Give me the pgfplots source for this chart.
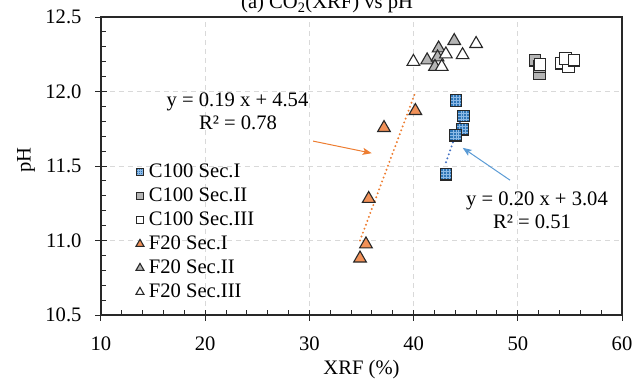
\documentclass[border=0pt]{standalone}
\usepackage{pgfplots}
\pgfplotsset{compat=1.18}
\usepackage{fontspec}
\setmainfont{Liberation Serif}
\usetikzlibrary{arrows.meta,calc}
\definecolor{orLine}{RGB}{237,125,49}
\definecolor{orFill}{RGB}{241,145,88}
\definecolor{blFill}{RGB}{46,117,182}
\definecolor{blGrid}{RGB}{140,185,230}
\definecolor{blLine}{RGB}{68,114,196}
\definecolor{blArrow}{RGB}{91,155,213}
\definecolor{gyFill}{RGB}{180,180,180}
\definecolor{edge}{RGB}{40,40,40}
\definecolor{gridc}{RGB}{217,217,217}
\pgfdeclareplotmark{gridsquare}{%
  \pgfpathrectangle{\pgfqpoint{-\pgfplotmarksize}{-\pgfplotmarksize}}{\pgfqpoint{2\pgfplotmarksize}{2\pgfplotmarksize}}%
  \pgfusepathqfillstroke
  \begin{pgfscope}
    \pgfsetstrokecolor{blGrid}\pgfsetlinewidth{0.35pt}%
    \pgfpathmoveto{\pgfqpoint{-0.5\pgfplotmarksize}{-\pgfplotmarksize}}\pgfpathlineto{\pgfqpoint{-0.5\pgfplotmarksize}{\pgfplotmarksize}}%
    \pgfpathmoveto{\pgfqpoint{0pt}{-\pgfplotmarksize}}\pgfpathlineto{\pgfqpoint{0pt}{\pgfplotmarksize}}%
    \pgfpathmoveto{\pgfqpoint{0.5\pgfplotmarksize}{-\pgfplotmarksize}}\pgfpathlineto{\pgfqpoint{0.5\pgfplotmarksize}{\pgfplotmarksize}}%
    \pgfpathmoveto{\pgfqpoint{-\pgfplotmarksize}{-0.5\pgfplotmarksize}}\pgfpathlineto{\pgfqpoint{\pgfplotmarksize}{-0.5\pgfplotmarksize}}%
    \pgfpathmoveto{\pgfqpoint{-\pgfplotmarksize}{0pt}}\pgfpathlineto{\pgfqpoint{\pgfplotmarksize}{0pt}}%
    \pgfpathmoveto{\pgfqpoint{-\pgfplotmarksize}{0.5\pgfplotmarksize}}\pgfpathlineto{\pgfqpoint{\pgfplotmarksize}{0.5\pgfplotmarksize}}%
    \pgfusepathqstroke
  \end{pgfscope}
  \pgfpathrectangle{\pgfqpoint{-\pgfplotmarksize}{-\pgfplotmarksize}}{\pgfqpoint{2\pgfplotmarksize}{2\pgfplotmarksize}}%
  \pgfusepathqstroke
}
\newcommand{\f}{\fontsize{20.6bp}{24bp}\selectfont}
\begin{document}
\begin{tikzpicture}
\begin{axis}[
  scale only axis,
  width=521bp, height=298bp,
  xmin=10, xmax=60, ymin=10.5, ymax=12.5,
  xtick={10,20,...,60}, ytick={10.5,11,11.5,12,12.5},
  minor x tick num=4, minor y tick num=4,
  xtick pos=bottom, ytick pos=left,
  tick align=inside,
  major tick length=11bp, minor tick length=5bp,
  every major x tick/.append style={yshift=-5.5bp},
  every major y tick/.append style={xshift=-5.5bp},
  tick style={edge, line width=1bp},
  axis line style={edge, line width=1.4bp},
  grid=major,
  major grid style={gridc, line width=1bp, dash pattern=on 5bp off 4bp},
  /pgf/number format/assume math mode=true,
  yticklabel style={/pgf/number format/fixed, /pgf/number format/fixed zerofill, /pgf/number format/precision=1, xshift=-16bp},
  xticklabel style={yshift=-18bp},
  ticklabel style={font=\f},
  label style={font=\f},
  xlabel={XRF (\%)}, ylabel={pH},
  xlabel style={at={(axis description cs:0.5,-0.198)}, anchor=base},
  ylabel style={at={(axis description cs:-0.144,0.52)}, anchor=center},
  legend style={at={(rel axis cs:0.066,0.514)}, anchor=north west, draw=none, fill=none, inner sep=0pt,
    font=\f, row sep=4bp, nodes={inner ysep=0pt, inner xsep=4.5bp, text height=15bp, text depth=5bp}},
  legend cell align=left,
  legend image code/.code={\draw[#1] plot coordinates {(4bp,0bp)}; \path (0bp,-3bp) (8bp,3bp);},
  clip=false,
]
% C100 Sec.I
\addplot[only marks, mark=gridsquare, mark size=5.8bp, mark options={draw=edge, fill=blFill, line width=1.1bp},
  legend image post style={mark size=3.4bp, line width=0.8bp}]
  coordinates {(43.11,11.445) (44.07,11.94) (44.8,11.835) (44.67,11.747) (44.04,11.707)};
\addlegendentry{C100 Sec.I}
% C100 Sec.II
\addplot[only marks, mark=square*, mark size=5.8bp, mark options={draw=edge, fill=gyFill, line width=1.1bp},
  legend image post style={mark size=3.4bp, line width=0.8bp}]
  coordinates {(51.65,12.21) (52.07,12.12) (52.07,12.166)};
\addlegendentry{C100 Sec.II}
% C100 Sec.III
\addplot[only marks, mark=square*, mark size=5.8bp, mark options={draw=edge, fill=white, line width=1.1bp},
  legend image post style={mark size=3.4bp, line width=0.8bp}]
  coordinates {(52.13,12.18) (54.2,12.19) (54.85,12.166) (54.6,12.22) (55.4,12.21)};
\addlegendentry{C100 Sec.III}
% F20 Sec.I
\addplot[only marks, mark=triangle*, mark size=7.3bp, mark options={draw=edge, fill=orFill, line width=1.1bp},
  legend image post style={mark size=4.6bp, line width=0.8bp}]
  coordinates {(34.86,10.88) (35.43,10.975) (35.69,11.28) (37.16,11.756) (40.17,11.87)};
\addlegendentry{F20 Sec.I}
% F20 Sec.II
\addplot[only marks, mark=triangle*, mark size=7.3bp, mark options={draw=edge, fill=gyFill, line width=1.1bp},
  legend image post style={mark size=4.6bp, line width=0.8bp}]
  coordinates {(41.3,12.21) (42.4,12.29) (42.3,12.23) (42.05,12.166) (43.9,12.34)};
\addlegendentry{F20 Sec.II}
% F20 Sec.III
\addplot[only marks, mark=triangle*, mark size=7.3bp, mark options={draw=edge, fill=white, line width=1.1bp},
  legend image post style={mark size=4.6bp, line width=0.8bp}]
  coordinates {(39.98,12.2) (42.7,12.166) (43.1,12.25) (44.7,12.245) (46.0,12.32)};
\addlegendentry{F20 Sec.III}
% trend lines
\addplot[orLine, line width=2.2bp, line cap=round, dash pattern=on 0bp off 4.2bp, forget plot]
  coordinates {(34.86,11.0) (40.15,11.99)};
\addplot[blLine, line width=2.2bp, line cap=round, dash pattern=on 0bp off 4.2bp, forget plot]
  coordinates {(43.11,11.525) (44.8,11.864)};
% arrows
\draw[orLine, line width=1bp, -{Stealth[length=9bp, width=7bp, inset=2bp]}] (axis cs:30.36,11.667) -- (axis cs:35.98,11.586);
\draw[blArrow, line width=1bp, -{Stealth[length=9bp, width=7bp, inset=2bp]}] (axis cs:49.25,11.405) -- (axis cs:44.71,11.622);
% equations
\node[anchor=base, font=\f] at (axis cs:23.1,11.902) {y = 0.19 x + 4.54};
\node[anchor=base, font=\f] at (axis cs:23.15,11.747) {R² = 0.78};
\node[anchor=base, font=\f] at (axis cs:51.84,11.237) {y = 0.20 x + 3.04};
\node[anchor=base, font=\f] at (axis cs:51.36,11.082) {R² = 0.51};
% title (partly cut by the page edge, as in the reference)
\node[anchor=base, font=\f] at (rel axis cs:0.434,1.027) {(a) CO\textsubscript{2}(XRF) vs pH};
\coordinate (sw) at (rel axis cs:0,0);
\coordinate (ne) at (rel axis cs:1,1);
\end{axis}
\pgfresetboundingbox
\useasboundingbox ($(sw)+(-101bp,-67bp)$) rectangle ($(ne)+(22bp,17bp)$);
\end{tikzpicture}
\end{document}
